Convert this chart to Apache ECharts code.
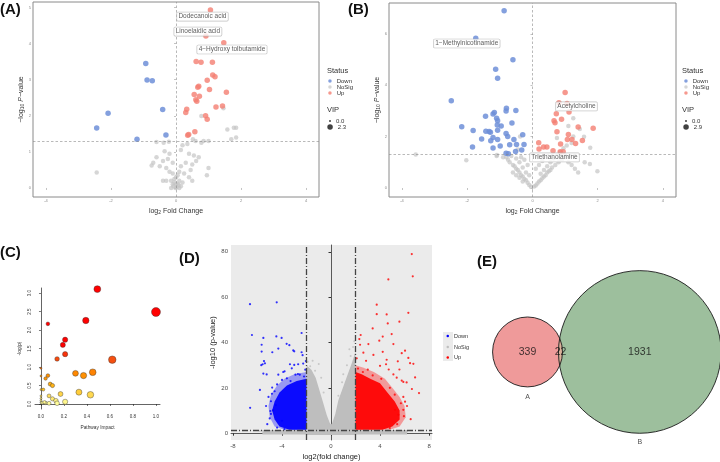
<!DOCTYPE html>
<html>
<head>
<meta charset="utf-8">
<script src="https://cdn.jsdelivr.net/npm/echarts@6/dist/echarts.min.js"></script>
<style>
  html, body { margin: 0; padding: 0; background: #fff; }
  #chart { width: 720px; height: 462px; }
</style>
</head>
<body>
<div id="chart"></div>
<script>
// ---- (A) volcano ----
const aDown = [[-0.93,3.45],[-0.89,2.99],[-0.73,2.97],[-0.41,2.17],[-2.09,2.07],[-2.44,1.66],[-1.2,1.35],[-0.31,1.47]];
const aUp = [[1.06,4.93],[0.92,4.21],[1.47,4.02],[0.62,3.5],[0.77,3.48],[1.12,3.48],[1.13,3.13],[1.2,3.08],[0.96,2.98],[0.70,2.82],[0.67,2.79],[1.03,2.73],[1.55,2.65],[0.56,2.59],[0.72,2.54],[0.61,2.44],[0.64,2.40],[1.43,2.27],[1.23,2.24],[0.33,2.18],[0.30,2.09],[0.91,2.0],[0.96,1.90],[0.58,1.56],[0.39,1.48],[0.36,1.46]];
const aNoSig = [[-0.6,1.27],[-0.38,1.25],[-0.22,1.28],[0.2,1.18],[0.35,1.22],[0.52,1.35],[0.78,1.25],[1.0,1.3],[-0.35,1.02],[-0.2,0.95],[0.15,1.05],[0.4,0.95],[0.55,0.9],[0.7,0.85],[-0.6,0.85],[-0.4,0.75],[-0.25,0.8],[-0.1,0.7],[0.3,0.7],[0.5,0.65],[0.62,0.75],[-0.7,0.7],[-0.5,0.6],[-0.3,0.55],[0.15,0.6],[0.45,0.5],[1.0,0.55],[-0.75,0.62],[-0.2,0.45],[-0.1,0.4],[0.05,0.35],[0.1,0.45],[0.25,0.4],[0.4,0.3],[-0.4,0.2],[-0.3,0.2],[-0.15,0.2],[-0.05,0.15],[0,0.1],[0.05,0.12],[-0.1,0.1],[0.1,0.2],[0.2,0.15],[0.15,0.05],[-0.08,0.05],[0.02,0.02],[0.5,0.2],[0.95,0.35],[-2.44,0.43],[0.78,1.99],[1.46,2.21],[1.58,1.62],[1.7,1.35],[1.85,1.4],[1.85,1.67],[1.78,1.67],[0.6,1.3],[0.85,1.3],[-0.05,0.25],[0.0,0.3],[0.08,0.08],[-0.02,0.0],[0.1,0.0],[-0.15,0.0]];
const aLabelNames = ['Dodecanoic acid', 'Linoelaidic acid', '4\u2212Hydroxy tolbutamide'];
const aLabelPoints = [[1.06,4.93],[0.92,4.21],[1.47,4.02]];
const aVip = ['0.0', '2.3'];

// ---- (B) volcano ----
const bDown = [[-0.87,6.90],[-1.74,5.83],[-0.60,4.99],[-1.13,4.62],[-1.07,4.27],[-2.49,3.40],[-0.80,3.10],[-0.81,3.0],[-0.51,3.02],[-1.17,2.94],[-1.21,2.88],[-1.44,2.79],[-1.10,2.71],[-1.07,2.62],[-0.63,2.53],[-2.17,2.38],[-1.08,2.45],[-0.96,2.41],[-1.82,2.24],[-1.43,2.21],[-1.33,2.20],[-1.29,2.17],[-1.07,2.25],[-0.81,2.12],[-0.76,2.0],[-0.30,2.07],[-1.56,1.91],[-1.21,1.97],[-1.07,1.89],[-1.28,1.84],[-0.57,1.89],[-0.49,1.69],[-0.26,1.69],[-0.70,1.68],[-0.99,1.63],[-1.21,1.56],[-1.84,1.60],[-0.52,1.42],[-0.81,1.35],[-0.74,1.33],[-0.33,1.48]];
const bUp = [[1.0,3.72],[0.81,3.32],[1.06,3.29],[1.12,2.96],[0.73,2.89],[0.66,2.62],[0.69,2.54],[0.89,2.68],[1.40,2.37],[1.86,2.33],[0.75,2.19],[1.10,2.08],[1.21,1.89],[1.07,1.89],[1.53,1.85],[1.32,1.73],[0.19,1.76],[0.44,1.60],[0.34,1.60],[0.20,1.52],[0.86,1.71],[0.63,1.45],[0.85,1.41],[0.94,1.41]];
const bNoSig = [[-0.05,0.05],[-0.1,0.12],[-0.15,0.2],[-0.2,0.3],[-0.25,0.35],[-0.3,0.45],[-0.35,0.5],[-0.4,0.6],[-0.45,0.7],[-0.5,0.75],[-0.55,0.85],[-0.6,0.9],[-0.7,1.0],[-0.75,1.1],[-0.8,1.2],[-0.3,0.25],[-0.4,0.4],[-0.5,0.5],[-0.6,0.6],[-0.2,0.6],[-0.3,0.8],[-0.4,1.0],[-0.5,1.15],[-0.25,1.1],[-0.15,0.9],[-0.1,0.5],[-0.9,1.2],[-1.1,1.25],[-0.65,1.25],[-0.35,1.2],[0.05,0.06],[0.1,0.1],[0.15,0.18],[0.2,0.25],[0.25,0.3],[0.3,0.38],[0.35,0.45],[0.4,0.5],[0.45,0.6],[0.5,0.65],[0.55,0.7],[0.6,0.8],[0.7,0.9],[0.8,1.0],[0.9,1.1],[1.0,1.2],[0.25,0.55],[0.35,0.7],[0.45,0.85],[0.55,1.0],[0.2,0.9],[0.3,1.05],[0.1,0.75],[0.15,1.2],[0.65,1.15],[1.1,1.0],[1.2,0.9],[1.3,0.75],[1.4,0.6],[1.15,1.25],[1.6,1.0],[1.76,0.93],[1.99,0.65],[1.3,1.25],[0.85,1.4],[0.95,1.55],[1.05,1.65],[1.2,1.75],[1.45,2.3],[1.25,2.0],[0.75,1.95],[1.1,2.41],[1.25,2.71],[1.58,1.99],[1.77,1.57],[-3.58,1.30],[-2.03,1.08],[-1.09,1.28],[-0.38,2.0],[-0.45,1.5]];
const bLabelNames = ['1\u2212Methylnicotinamide', 'Acetylcholine', 'Triethanolamine'];
const bLabelPoints = [[-1.74,5.83],[1.06,3.29],[0.20,1.52]];
const bVip = ['0.0', '2.9'];

// ---- (C) pathway impact ----
const cPoints = [[0.49,3.11],[1.0,2.49],[0.39,2.26],[0.06,2.17],[0.21,1.74],[0.19,1.60],[0.21,1.35],[0.14,1.22],[0.62,1.20],[0.0,0.97],[0.45,0.86],[0.30,0.83],[0.37,0.77],[0.06,0.77],[0.0,0.76],[0.04,0.69],[0.08,0.54],[0.10,0.50],[0.0,0.39],[0.02,0.39],[0.33,0.32],[0.17,0.27],[0.43,0.25],[0.07,0.22],[0.0,0.22],[0.10,0.14],[0.0,0.15],[0.0,0.09],[0.0,0.04],[0.01,0.03],[0.04,0.03],[0.13,0.09],[0.14,0.02],[0.21,0.06],[0.07,0.02],[0.03,0.05]];
const cXTicks = [0, 0.2, 0.4, 0.6, 0.8, 1.0];
const cYTicks = [0, 0.5, 1.0, 1.5, 2.0, 2.5, 3.0];

// ---- (D) volcano (dense) ----
const dDownPts = [[-6.61,56.9],[-4.43,57.7],[-6.45,43.3],[-5.52,42.0],[-4.46,42.7],[-4.03,42.0],[-2.40,44.2],[-5.66,39.0],[-3.62,39.4],[-3.40,38.8],[-5.66,36.0],[-4.79,35.7],[-4.30,37.3],[-3.08,36.5],[-3.0,36.1],[-2.40,35.7],[-2.32,34.4],[-5.47,31.8],[-5.58,30.4],[-5.69,30.0],[-5.39,30.8],[-3.35,30.4],[-3.0,30.1],[-2.68,30.4],[-2.27,30.7],[-2.05,31.8],[-5.52,26.3],[-5.25,25.9],[-4.30,25.8],[-3.90,27.0],[-3.79,27.3],[-2.9,25.8],[-2.7,26.1],[-2.55,25.8],[-5.8,19.1],[-4.82,17.4],[-5.1,16.0],[-4.9,14.1],[-4.5,12.4],[-6.6,11.2],[-4.73,10.1],[-5.2,4.0],[-4.0,5.5],[-4.9,8.5],[-5.0,6.5],[-4.8,20.1],[-4.4,21.5],[-4.0,23.5],[-3.6,24.2],[-3.3,23.0],[-2.2,25.0],[-2.1,28.0],[-5.3,12.0],[-4.4,2.5],[-3.8,1.8],[-4.95,9.8],[-3.2,28.6],[-4.6,18.5]];
const dUpPts = [[6.59,79.0],[6.67,69.2],[4.68,67.8],[3.73,56.7],[3.73,52.5],[4.54,52.4],[6.31,53.1],[5.58,49.2],[4.63,48.4],[3.40,46.2],[2.42,43.3],[4.95,43.7],[4.22,42.6],[2.31,41.5],[3.05,39.3],[3.94,40.8],[5.09,39.3],[6.04,36.4],[5.77,35.3],[6.31,33.2],[6.45,30.9],[6.72,30.6],[6.86,24.6],[7.18,17.7],[6.50,6.2],[5.77,23.2],[5.9,22.6],[5.45,31.7],[5.58,28.1],[3.46,34.5],[4.22,35.9],[4.54,32.4],[2.37,39.0],[2.64,35.5],[2.86,31.9],[4.0,29.7],[4.49,30.4],[4.71,28.1],[5.09,25.9],[5.36,24.5],[6.17,22.4],[6.04,13.9],[5.9,10.3],[5.7,13.2],[5.22,10.3],[5.5,8.1],[2.2,28.5],[2.6,27.0],[3.4,25.5],[4.1,24.0],[4.8,20.0],[5.2,17.0],[5.9,16.0],[6.2,12.0],[5.95,7.5],[5.4,4.0],[4.8,2.3],[2.1,33.0],[3.0,28.0],[6.6,19.5]];
const dNoSigPts = [[-1.7,29.5],[-1.3,27.5],[-1.0,30.5],[-1.5,32.0],[-0.8,24.5],[1.0,26.0],[1.3,30.0],[1.6,34.0],[1.8,38.0],[1.9,40.5],[1.5,37.0],[0.9,22.5],[-0.6,18.0],[0.6,16.5],[-1.9,31.5],[-5.8,1.0],[6.2,0.8],[-2.3,0.5]];
// outlines of the saturated point clouds (core and sparser halo)
const dDownMass = [[-2,1.5],[-3.4,1.5],[-4.2,3],[-4.6,6],[-4.8,10],[-4.6,14],[-4.2,18],[-3.6,21],[-2.8,23],[-2,24]];
const dDownHalo = [[-2,1.5],[-3.8,1.5],[-4.6,3],[-5.0,7],[-5.1,12],[-4.9,17],[-4.4,21],[-3.8,24],[-3.0,26],[-2,27]];
const dUpMass = [[2,1.5],[4.2,1.5],[5.0,3],[5.6,6],[5.6,10],[5.2,14],[4.6,18],[4.0,22],[3.2,24],[2.5,26],[2,27]];
const dUpHalo = [[2,1.5],[4.8,1.5],[5.6,3],[6.1,7],[6.0,12],[5.6,16],[5.0,20],[4.4,24],[3.5,27],[2.6,29],[2,30]];
const dNoSigMass = [[-2,-0.8],[-2,30],[-1.6,28],[-1.25,24.5],[-0.7,14.5],[-0.35,8],[-0.1,4.5],[0,3.8],[0.1,4.5],[0.35,8.5],[0.6,14.5],[1.27,24.6],[1.7,31],[2,36],[2,-0.8]];
const dNoSigBand = [[-5.6,-0.6],[-5.6,1.4],[6.2,1.4],[6.2,-0.6]];
const dXTicks = [-8, -4, 0, 4, 8];
const dYTicks = [0, 20, 40, 60, 80];

// ---- (E) Venn ----
const vennSets = ['A', 'B'];
const vennCounts = [339, 22, 1931]; // A only, A∩B, B only

// ---- geometry for the Venn ----
const rA = Math.sqrt(vennCounts[0] + vennCounts[1]);
const rB = Math.sqrt(vennCounts[2] + vennCounts[1]);
function lensArea(r1, r2, d) {
  const a1 = Math.acos((d * d + r1 * r1 - r2 * r2) / (2 * d * r1));
  const a2 = Math.acos((d * d + r2 * r2 - r1 * r1) / (2 * d * r2));
  const k = Math.sqrt((-d + r1 + r2) * (d + r1 - r2) * (d - r1 + r2) * (d + r1 + r2));
  return r1 * r1 * a1 + r2 * r2 * a2 - 0.5 * k;
}
let lo = Math.abs(rB - rA) + 1e-6, hi = rA + rB - 1e-6;
for (let i = 0; i < 60; i++) {
  const mid = (lo + hi) / 2;
  if (lensArea(rA, rB, mid) > vennCounts[1]) lo = mid; else hi = mid;
}
const vennDist = (lo + hi) / 2;

const chart = echarts.init(document.getElementById('chart'));

const blue = '#6f8fd8', red = '#f47e72', grey = '#c4c4c4';
const font = 'Liberation Sans, Arial, sans-serif';

function panelTitle(text, left, top) {
  return { text, left, top, padding: 0, textStyle: { fontSize: 15, fontWeight: 'bold', color: '#111', fontFamily: font } };
}
function smallTitle(text, left, top) {
  return { text, left, top, padding: 0, textStyle: { fontSize: 7.5, fontWeight: 'normal', color: '#333', fontFamily: font } };
}
function legendItem(item, left, top, size, label, fontSize) {
  return {
    data: [item], left, top, orient: 'vertical', icon: 'circle',
    itemWidth: size, itemHeight: size, padding: 0, itemGap: 0, selectedMode: false,
    textStyle: { fontSize: fontSize || 6, color: '#333', fontFamily: font },
    formatter: () => label
  };
}

// volcano axes for panels A and B
function volcanoAxes(gi, ymin, ymax, yTicks) {
  const tick = { show: true, length: 2, lineStyle: { color: '#9a9a9a', width: 0.6 } };
  const lab = { fontSize: 4, color: '#8c8c8c', margin: 2 };
  const rich = {
    t: { fontSize: 7, color: '#333', fontFamily: font },
    s: { fontSize: 5, color: '#333', fontFamily: font, padding: [3, 0, 0, 0] },
    i: { fontSize: 7, color: '#333', fontStyle: 'italic', fontFamily: font }
  };
  return {
    x: {
      type: 'value', gridIndex: gi, min: -4.4, max: 4.4,
      axisLine: { show: false }, splitLine: { show: false },
      axisTick: Object.assign({ customValues: [-4, -2, 0, 2, 4] }, tick),
      axisLabel: Object.assign({ customValues: [-4, -2, 0, 2, 4] }, lab),
      name: '{t|log}{s|2}{t| Fold Change}', nameLocation: 'middle', nameGap: 10,
      nameTextStyle: { rich }
    },
    y: {
      type: 'value', gridIndex: gi, min: ymin, max: ymax,
      axisLine: { show: false }, splitLine: { show: false },
      axisTick: Object.assign({ customValues: yTicks }, tick),
      axisLabel: Object.assign({ customValues: yTicks }, lab),
      name: '{t|\u2212log}{s|10}{t| }{i|P}{t|\u2212value}', nameLocation: 'middle', nameGap: 8, nameRotate: 90,
      nameTextStyle: { rich }
    }
  };
}
const axA = volcanoAxes(0, -0.25, 5.15, [0, 1, 2, 3, 4, 5]);
const axB = volcanoAxes(1, -0.35, 7.2, [0, 2, 4, 6]);

const labelOffsets = {
  'Dodecanoic acid': [-8, 6.6],
  'Linoelaidic acid': [-8, -4.4],
  '4\u2212Hydroxy tolbutamide': [8.2, 6.7],
  '1\u2212Methylnicotinamide': [-9, 5.3],
  'Acetylcholine': [9.4, 3],
  'Triethanolamine': [15.5, 8.5]
};
function volcanoSeries(gi, down, nosig, up, names, points) {
  const dash = { color: '#8a8a8a', type: [2.5, 2], width: 0.6 };
  return [
    {
      name: 'NoSig', type: 'scatter', xAxisIndex: gi, yAxisIndex: gi, data: nosig, symbolSize: 4.5,
      itemStyle: { color: grey, opacity: 0.7 },
      markLine: { silent: true, symbol: ['none', 'none'], label: { show: false }, lineStyle: dash,
        data: [{ xAxis: 0 }, { yAxis: 1.3 }] }
    },
    { name: 'Down', type: 'scatter', xAxisIndex: gi, yAxisIndex: gi, data: down, symbolSize: 5.5, itemStyle: { color: blue, opacity: 0.85 } },
    { name: 'Up', type: 'scatter', xAxisIndex: gi, yAxisIndex: gi, data: up, symbolSize: 5.5, itemStyle: { color: red, opacity: 0.8 } },
    {
      type: 'scatter', xAxisIndex: gi, yAxisIndex: gi, symbolSize: 1, z: 5, silent: true,
      itemStyle: { color: 'transparent' },
      data: points.map((p, i) => ({
        value: p, name: names[i],
        label: { offset: labelOffsets[names[i]] }
      })),
      label: {
        show: true, position: 'inside', formatter: '{b}', fontSize: 6.5, color: '#333', fontFamily: font,
        backgroundColor: '#fff', borderColor: '#b0b0b0', borderWidth: 0.6, borderRadius: 1, padding: [1, 1.5, 0.5, 1.5]
      }
    },
    { name: 'vip0_' + gi, type: 'scatter', xAxisIndex: gi, yAxisIndex: gi, data: [], itemStyle: { color: '#111' } },
    { name: 'vip1_' + gi, type: 'scatter', xAxisIndex: gi, yAxisIndex: gi, data: [], itemStyle: { color: '#111' } }
  ];
}

function massSeries(verts, color, opacity, z) {
  return {
    type: 'custom', xAxisIndex: 3, yAxisIndex: 3, clip: true, silent: true, z,
    data: [0],
    renderItem: function (params, api) {
      return { type: 'polygon', shape: { points: verts.map(v => api.coord(v)) }, style: { fill: color, opacity } };
    }
  };
}

const option = {
  animation: false,
  textStyle: { fontFamily: font },
  title: [
    panelTitle('(A)', 0, 2),
    panelTitle('(B)', 348, 2),
    panelTitle('(C)', 0, 245),
    panelTitle('(D)', 179, 251),
    panelTitle('(E)', 477, 254),
    smallTitle('Status', 327, 67),
    smallTitle('VIP', 327, 106),
    smallTitle('Status', 682, 67),
    smallTitle('VIP', 682, 106)
  ],
  legend: [
    legendItem('Down', 328.2, 78, 3.5, 'Down'),
    legendItem('NoSig', 328.2, 84, 3.5, 'NoSig'),
    legendItem('Up', 328.2, 90, 3.5, 'Up'),
    legendItem('vip0_0', 329, 118, 2, aVip[0]),
    legendItem('vip1_0', 327.3, 124, 5.5, aVip[1]),
    legendItem('Down', 684.2, 78, 3.5, 'Down'),
    legendItem('NoSig', 684.2, 84, 3.5, 'NoSig'),
    legendItem('Up', 684.2, 90, 3.5, 'Up'),
    legendItem('vip0_1', 685, 118, 2, bVip[0]),
    legendItem('vip1_1', 683.3, 124, 5.5, bVip[1]),
    legendItem({ name: 'Down', itemStyle: { color: '#0000ff', opacity: 1 } }, 446.5, 333, 2.5, 'Down', 5.5),
    legendItem({ name: 'NoSig', itemStyle: { color: '#bebebe', opacity: 1 } }, 446.5, 344, 2.5, 'NoSig', 5.5),
    legendItem({ name: 'Up', itemStyle: { color: '#ff0000', opacity: 1 } }, 446.5, 354.5, 2.5, 'Up', 5.5)
  ],
  graphic: [
    { type: 'rect', left: 443, top: 332, shape: { width: 10, height: 29 }, style: { fill: '#ebebeb' }, z: -1 }
  ],
  grid: [
    { left: 33, top: 2, width: 286, height: 195, show: true, borderColor: '#8a8a8a', borderWidth: 1 },
    { left: 389, top: 3, width: 287, height: 194, show: true, borderColor: '#8a8a8a', borderWidth: 1 },
    { left: 35, top: 288, width: 125, height: 121 },
    { left: 231, top: 245, width: 201, height: 199, show: true, backgroundColor: '#ebebeb', borderWidth: 0 },
    { left: 490, top: 250, width: 230, height: 212 }
  ],
  xAxis: [
    axA.x, axB.x,
    {
      type: 'value', gridIndex: 2, min: -0.052, max: 1.035,
      axisLine: { lineStyle: { color: '#222', width: 0.7 } }, splitLine: { show: false },
      axisTick: { customValues: cXTicks, length: 2, lineStyle: { color: '#222', width: 0.6 } },
      axisLabel: { customValues: cXTicks, fontSize: 4.5, color: '#333', margin: 5, formatter: v => v.toFixed(1) },
      name: 'Pathway Impact', nameLocation: 'middle', nameGap: 16, nameTextStyle: { fontSize: 4.8, color: '#333' }
    },
    {
      type: 'value', gridIndex: 3, min: -8.16, max: 8.24,
      axisLine: { lineStyle: { color: '#333', width: 0.8 } }, splitLine: { show: false },
      axisTick: { customValues: dXTicks, length: 2.5, lineStyle: { color: '#333' } },
      axisLabel: { customValues: dXTicks, fontSize: 6, color: '#4d4d4d', margin: 3 },
      name: 'log2(fold change)', nameLocation: 'middle', nameGap: 13, nameTextStyle: { fontSize: 7.5, color: '#222' }
    },
    { type: 'value', gridIndex: 4, min: -20.4, max: 104.6, show: false }
  ],
  yAxis: [
    axA.y, axB.y,
    {
      type: 'value', gridIndex: 2, min: -0.135, max: 3.14,
      axisLine: { show: true, lineStyle: { color: '#222', width: 0.7 } }, splitLine: { show: false },
      axisTick: { show: true, customValues: cYTicks, length: 2, lineStyle: { color: '#222', width: 0.6 } },
      axisLabel: { customValues: cYTicks, fontSize: 4.5, color: '#333', margin: 3, rotate: 90, formatter: v => v.toFixed(1) },
      name: '-log(p)', nameLocation: 'middle', nameGap: 13, nameRotate: 90, nameTextStyle: { fontSize: 4.8, color: '#333' }
    },
    {
      type: 'value', gridIndex: 3, min: -3, max: 83,
      axisLine: { show: true, lineStyle: { color: '#333', width: 0.8 } }, splitLine: { show: false },
      axisTick: { show: true, customValues: dYTicks, length: 2.5, lineStyle: { color: '#333' } },
      axisLabel: { customValues: dYTicks, fontSize: 6, color: '#4d4d4d', margin: 3 },
      name: '-log10 (p-value)', nameLocation: 'middle', nameGap: 14, nameRotate: 90, nameTextStyle: { fontSize: 7.5, color: '#222' }
    },
    { type: 'value', gridIndex: 4, min: -59.8, max: 55.4, show: false }
  ],
  visualMap: {
    type: 'continuous', show: false, seriesIndex: 12, dimension: 1, min: 0, max: 1.6,
    inRange: { color: ['#ffffa0', '#ffc020', '#ff8c00', '#f55010', '#ff0000'] }
  },
  series: [
    ...volcanoSeries(0, aDown, aNoSig, aUp, aLabelNames, aLabelPoints),
    ...volcanoSeries(1, bDown, bNoSig, bUp, bLabelNames, bLabelPoints),
    {
      type: 'scatter', xAxisIndex: 2, yAxisIndex: 2, data: cPoints,
      symbolSize: v => 2 + 7 * Math.sqrt(v[0]),
      itemStyle: { borderColor: '#333', borderWidth: 0.4, opacity: 1 }
    },
    massSeries(dNoSigBand, '#bebebe', 1, 1),
    massSeries(dNoSigMass, '#bebebe', 1, 1),
    massSeries(dDownHalo, '#0000ff', 0.35, 2),
    massSeries(dUpHalo, '#ff0000', 0.35, 2),
    massSeries(dDownMass, '#0000ff', 0.93, 2),
    massSeries(dUpMass, '#ff0000', 0.93, 2),
    { name: 'NoSig', type: 'scatter', xAxisIndex: 3, yAxisIndex: 3, data: dNoSigPts, symbolSize: 2, itemStyle: { color: '#bebebe' }, z: 3 },
    { name: 'Down', type: 'scatter', xAxisIndex: 3, yAxisIndex: 3, data: dDownPts, symbolSize: 2.2, itemStyle: { color: '#0000ff' }, z: 3 },
    {
      name: 'Up', type: 'scatter', xAxisIndex: 3, yAxisIndex: 3, data: dUpPts, symbolSize: 2.2, itemStyle: { color: '#ff0000' }, z: 4,
      markLine: {
        silent: true, symbol: ['none', 'none'], label: { show: false },
        lineStyle: { color: '#444', type: [6, 2, 1, 2], width: 1.3 },
        data: [{ xAxis: -2 }, { xAxis: 2 }, { yAxis: 1.3 }]
      }
    },
    // Venn circles and overlap
    {
      type: 'custom', xAxisIndex: 4, yAxisIndex: 4, silent: true, data: [0],
      renderItem: function (params, api) {
        const cA = api.coord([0, 0]), cB = api.coord([vennDist, 0]);
        const k = api.size([1, 0])[0];
        const ra = rA * k, rb = rB * k, dd = cB[0] - cA[0];
        const a = (dd * dd + ra * ra - rb * rb) / (2 * dd);
        const thA = Math.atan2(Math.sqrt(ra * ra - a * a), a);
        const thB = Math.atan2(Math.sqrt(ra * ra - a * a), dd - a);
        const lens = [];
        for (let i = 0; i <= 30; i++) {
          const t = -thA + 2 * thA * i / 30;
          lens.push([cA[0] + ra * Math.cos(t), cA[1] + ra * Math.sin(t)]);
        }
        for (let i = 0; i <= 30; i++) {
          const t = thB - 2 * thB * i / 30;
          lens.push([cB[0] - rb * Math.cos(t), cB[1] + rb * Math.sin(t)]);
        }
        const edge = { fill: 'none', stroke: '#1a1a1a', lineWidth: 0.9 };
        return {
          type: 'group',
          children: [
            { type: 'circle', shape: { cx: cA[0], cy: cA[1], r: ra }, style: { fill: '#ef9a9a' } },
            { type: 'circle', shape: { cx: cB[0], cy: cB[1], r: rb }, style: { fill: '#9dbf9d' } },
            { type: 'polygon', shape: { points: lens }, style: { fill: '#dcb29b' } },
            { type: 'circle', shape: { cx: cA[0], cy: cA[1], r: ra }, style: edge },
            { type: 'circle', shape: { cx: cB[0], cy: cB[1], r: rb }, style: edge }
          ]
        };
      }
    },
    {
      type: 'scatter', xAxisIndex: 4, yAxisIndex: 4, symbolSize: 1, silent: true, z: 5,
      itemStyle: { color: 'transparent' },
      data: [
        [0, 0, vennCounts[0]],
        [((vennDist - rB) + rA) / 2, 0, vennCounts[1]],
        [vennDist, 0, vennCounts[2]]
      ],
      label: { show: true, position: 'inside', formatter: p => p.value[2], fontSize: 10.5, color: '#111' }
    },
    {
      type: 'scatter', xAxisIndex: 4, yAxisIndex: 4, symbolSize: 1, silent: true, z: 5,
      itemStyle: { color: 'transparent' },
      data: [[0, -(rA + 5.5), vennSets[0]], [vennDist, -(rB + 5), vennSets[1]]],
      label: { show: true, position: 'inside', formatter: p => p.value[2], fontSize: 7, color: '#222' }
    }
  ]
};

chart.setOption(option);
</script>
</body>
</html>
